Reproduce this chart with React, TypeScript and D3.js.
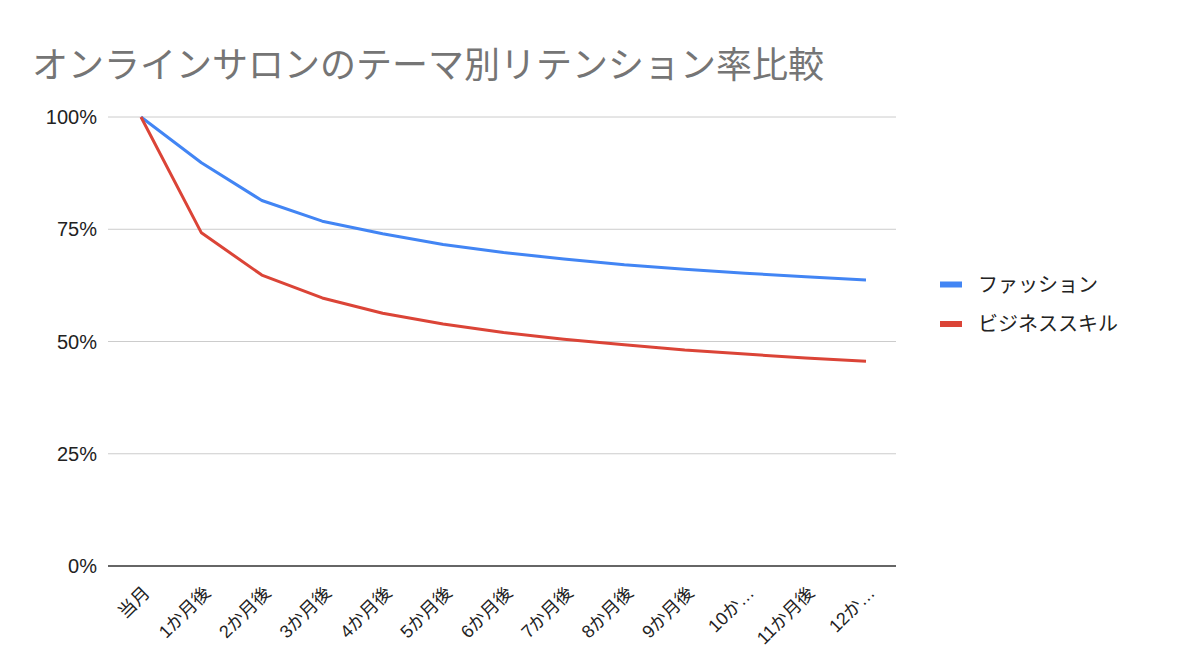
import { useEffect, useRef } from 'react'
import * as d3 from 'd3'

// --- DATA ---
const categories = [
  '当月', '1か月後', '2か月後', '3か月後', '4か月後', '5か月後', '6か月後',
  '7か月後', '8か月後', '9か月後', '10か…', '11か月後', '12か…',
]
const fashion = [1.0, 0.898, 0.814, 0.768, 0.74, 0.716, 0.698, 0.684, 0.671, 0.661, 0.652, 0.644, 0.637]
const business = [1.0, 0.742, 0.648, 0.597, 0.563, 0.539, 0.52, 0.505, 0.493, 0.481, 0.472, 0.463, 0.456]
const yTicks = [0, 0.25, 0.5, 0.75, 1]

const seriesList = [
  { name: 'ファッション', values: fashion, color: '#4285F4' },
  { name: 'ビジネススキル', values: business, color: '#DB4437' },
]

const W = 1200
const H = 667
const FONT = '"Liberation Sans", Arial, "Noto Sans CJK JP", sans-serif'

export default function App() {
  const svgRef = useRef<SVGSVGElement | null>(null)

  useEffect(() => {
    document.body.style.margin = '0'
    if (!svgRef.current) return
    const svg = d3.select<SVGSVGElement, unknown>(svgRef.current)
    svg.selectAll('*').remove()

    const left = 108
    const right = 896
    const top = 117
    const bottom = 566

    const x = d3
      .scalePoint<string>()
      .domain(categories)
      .range([141, 866])

    const y = d3.scaleLinear().domain([0, 1]).range([bottom, top])

    svg.append('rect').attr('width', W).attr('height', H).attr('fill', '#fff')

    // --- TITLE ---
    svg
      .append('text')
      .attr('x', 32)
      .attr('y', 78)
      .attr('fill', '#757575')
      .style('font-family', FONT)
      .style('font-size', '36px')
      .text('オンラインサロンのテーマ別リテンション率比較')

    // --- GRID ---
    svg
      .append('g')
      .selectAll('line')
      .data(yTicks.filter((t) => t > 0))
      .enter()
      .append('line')
      .attr('x1', left)
      .attr('x2', right)
      .attr('y1', (d) => y(d))
      .attr('y2', (d) => y(d))
      .attr('stroke', '#cccccc')
      .attr('stroke-width', 1)

    svg
      .append('line')
      .attr('x1', left)
      .attr('x2', right)
      .attr('y1', y(0))
      .attr('y2', y(0))
      .attr('stroke', '#333')
      .attr('stroke-width', 1.5)

    // --- Y LABELS ---
    svg
      .append('g')
      .selectAll('text')
      .data(yTicks)
      .enter()
      .append('text')
      .attr('x', 97)
      .attr('y', (d) => y(d) + 7)
      .attr('text-anchor', 'end')
      .attr('fill', '#222')
      .style('font-family', FONT)
      .style('font-size', '20px')
      .text((d) => d3.format('.0%')(d))

    // --- X LABELS ---
    svg
      .append('g')
      .selectAll('text')
      .data(categories)
      .enter()
      .append('text')
      .attr('transform', (d) => `translate(${(x(d) ?? 0) + 10}, 594) rotate(-45)`)
      .attr('text-anchor', 'end')
      .attr('fill', '#222')
      .style('font-family', FONT)
      .style('font-size', '18px')
      .text((d) => d)

    // --- LINES ---
    const line = d3
      .line<number>()
      .x((_, i) => x(categories[i]) ?? 0)
      .y((v) => y(v))

    seriesList.forEach((s) => {
      svg
        .append('path')
        .datum(s.values)
        .attr('fill', 'none')
        .attr('stroke', s.color)
        .attr('stroke-width', 3)
        .attr('stroke-linejoin', 'round')
        .attr('d', line)
    })

    // --- LEGEND ---
    const legend = svg
      .append('g')
      .selectAll('g')
      .data(seriesList)
      .enter()
      .append('g')
      .attr('transform', (_, i) => `translate(940, ${284.5 + i * 39.5})`)

    legend
      .append('rect')
      .attr('x', 0)
      .attr('y', -3)
      .attr('width', 22)
      .attr('height', 6)
      .attr('fill', (d) => d.color)

    legend
      .append('text')
      .attr('x', 38)
      .attr('y', 7)
      .attr('fill', '#222')
      .style('font-family', FONT)
      .style('font-size', '20px')
      .text((d) => d.name)
  }, [])

  return <svg ref={svgRef} width={W} height={H} style={{ display: 'block' }} />
}
